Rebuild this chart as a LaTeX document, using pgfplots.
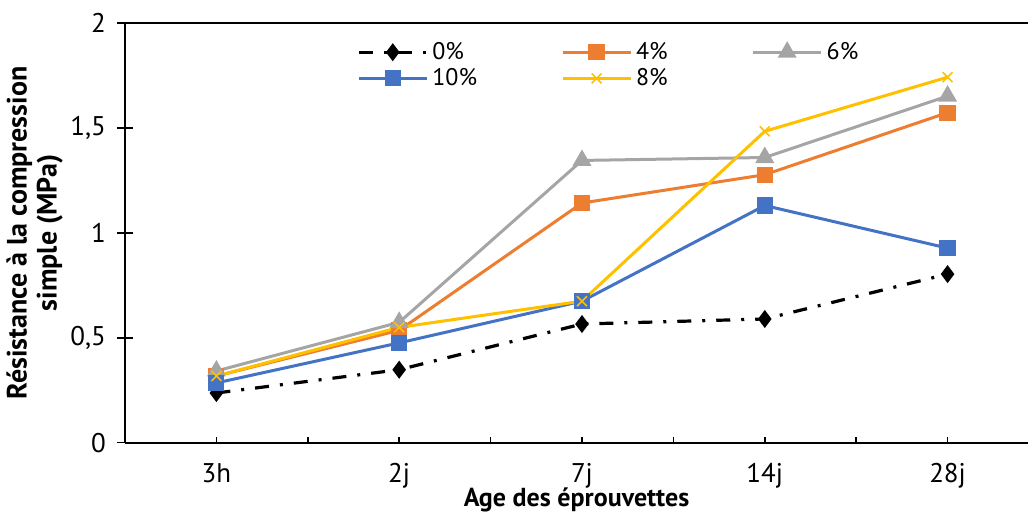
\documentclass[border=0pt]{standalone}
\usepackage{pgfplots}
\pgfplotsset{compat=1.18}
\usepackage{fontspec}
\setmainfont{PT Sans}
\definecolor{cOr}{HTML}{ED7D31}
\definecolor{cGr}{HTML}{A5A5A5}
\definecolor{cBl}{HTML}{4472C4}
\definecolor{cYe}{HTML}{FFC000}
\begin{document}
\begin{tikzpicture}
\begin{axis}[
  name=ax,
  scale only axis,
  width=451.5pt, height=209.7pt,
  xmin=-0.5, xmax=4.44,
  ymin=0, ymax=2,
  axis x line=box,
  axis y line=left,
  y axis line style={-},
  axis line style={line width=1pt},
  xtick pos=lower,
  ytick pos=left,
  tick align=inside,
  major tick length=3pt,
  minor tick length=3pt,
  tick style={black, line width=0.8pt},
  xtick={0,1,2,3,4},
  xticklabels={3h,2j,7j,14j,28j},
  minor xtick={0.5,1.5,2.5,3.5},
  ytick=\empty,
  minor ytick={0.1,0.2,0.3,0.4,0.6,0.7,0.8,0.9,1.1,1.2,1.3,1.4,1.6,1.7,1.8,1.9},
  extra y ticks={0,0.5,1,1.5,2},
  extra y tick labels={0,{0,5},1,{1,5},2},
  extra y tick style={tick align=center, major tick length=8pt},
  yticklabel style={font=\fontsize{13.5}{15}\selectfont, xshift=-2pt},
  xticklabel style={font=\fontsize{13.5}{15}\selectfont, yshift=-7pt},
  xlabel={\textbf{Age des éprouvettes}},
  xlabel style={font=\fontsize{13}{15}\selectfont, yshift=7.5pt},
  ylabel={\textbf{Résistance à la compression}\\\textbf{simple (MPa)}},
  ylabel style={font=\fontsize{14}{15}\selectfont, align=center, yshift=-3pt},
  legend columns=3,
  legend style={draw=none, fill=none, at={(0.25,0.975)}, anchor=north west,
    font=\fontsize{12}{14}\selectfont,
    /tikz/every even column/.append style={column sep=40pt},
    row sep=-1pt},
  legend cell align=left,
  legend image code/.code={\draw[mark repeat=2,mark phase=2] plot coordinates {(0pt,0pt) (17pt,0pt) (34pt,0pt)};},
]
\addplot[black, line width=1.6pt, dash pattern=on 7pt off 5.5pt on 1.5pt off 5.5pt,
  mark=diamond*, mark size=3.2pt, mark options={solid}]
  coordinates {(0,0.237) (1,0.348) (2,0.566) (3,0.590) (4,0.804)};
\addlegendentry{0\%}
\addplot[cOr, line width=1.5pt, mark=square*, mark size=3.3pt, mark options={solid}]
  coordinates {(0,0.318) (1,0.536) (2,1.143) (3,1.278) (4,1.574)};
\addlegendentry{4\%}
\addplot[cGr, line width=1.5pt, mark=triangle*, mark size=4pt, mark options={solid}]
  coordinates {(0,0.342) (1,0.574) (2,1.346) (3,1.360) (4,1.653)};
\addlegendentry{6\%}
\addplot[cBl, line width=1.5pt, mark=square*, mark size=3.3pt, mark options={solid}]
  coordinates {(0,0.285) (1,0.476) (2,0.675) (3,1.131) (4,0.928)};
\addlegendentry{10\%}
\addplot[cYe, line width=1.5pt, mark=x, mark size=3.5pt, mark options={solid, line width=0.8pt}]
  coordinates {(0,0.318) (1,0.550) (2,0.675) (3,1.485) (4,1.743)};
\addlegendentry{8\%}
\end{axis}
\pgfresetboundingbox
\path (-62.5pt,-38.15pt) rectangle (451.5pt,221.35pt);
\end{tikzpicture}
\end{document}
